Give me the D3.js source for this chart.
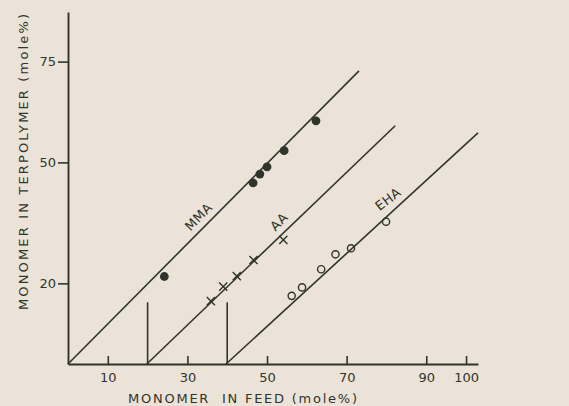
<!DOCTYPE html>
<html>
<head>
<meta charset="utf-8">
<script src="https://cdn.jsdelivr.net/npm/d3@7"></script>
<style>
  html, body { margin: 0; padding: 0; background: #ebe3d7; }
  svg { display: block; }
  text { font-family: "DejaVu Sans", sans-serif; fill: #30352b; }
</style>
</head>
<body>
<svg id="chart" width="569" height="406"></svg>
<script>
// ---- data ----
const xTicks = [10, 30, 50, 70, 90, 100];
const yTicks = [20, 50, 75];
const xTitle = "MONOMER  IN FEED (mole%)";
const yTitle = "MONOMER IN TERPOLYMER (mole%)";

// feed (x) vs terpolymer (y) mole %
const mmaX = [24.2, 46.5, 48.2, 50.0, 54.3, 62.3];
const mmaY = [21.7, 44.9, 47.1, 48.9, 52.9, 60.3];
const aaX  = [35.9, 39.0, 42.4, 46.6, 54.1];
const aaY  = [15.6, 19.2, 21.8, 25.8, 30.8];
const ehaX = [56.2, 58.8, 63.6, 67.2, 71.1, 79.9];
const ehaY = [16.9, 19.0, 23.5, 27.2, 28.7, 35.3];

// straight reference lines (each offset along the feed axis)
const mmaLine = [[0, 0], [73.1, 72.7]];
const aaLine  = [[19.8, 0], [82.2, 59.1]];
const ehaLine = [[39.7, 0], [103, 57.3]];
const offsetMarks = [20, 40];     // short vertical marks at the shifted origins
const offsetMarkHeight = 15.3;

const seriesLabels = ["MMA", "AA", "EHA"];
const labelAnchor = [[32.8, 36.5], [53.0, 35.3], [80.4, 40.9]];
const labelAngle = [-46, -45, -37];

// ---- drawing ----
const ink = "#30352b";
const svg = d3.select("#chart");
const x = d3.scaleLinear().domain([0, 103]).range([68, 478]);
const y = d3.scaleLinear().domain([0, 87.3]).range([364, 12]);

const xAxis = svg.append("g")
  .attr("transform", `translate(0,${y(0)})`)
  .call(d3.axisBottom(x).tickValues(xTicks).tickSizeInner(-8).tickSizeOuter(0).tickPadding(9));
const yAxis = svg.append("g")
  .attr("transform", `translate(${x(0)},0)`)
  .call(d3.axisLeft(y).tickValues(yTicks).tickSizeInner(10).tickSizeOuter(0).tickPadding(2));

[xAxis, yAxis].forEach(g => {
  g.select(".domain").attr("stroke", ink).attr("stroke-width", 1.9);
  g.selectAll(".tick line").attr("stroke", ink).attr("stroke-width", 1.6);
  g.selectAll(".tick text").attr("fill", ink).style("font-size", "13px")
   .style("font-family", '"DejaVu Sans", sans-serif');
});

// reference lines
const line = d3.line().x(d => x(d[0])).y(d => y(d[1]));
[mmaLine, aaLine, ehaLine].forEach(l => {
  svg.append("path").attr("d", line(l)).attr("fill", "none")
    .attr("stroke", ink).attr("stroke-width", 1.6);
});
svg.selectAll("line.offset").data(offsetMarks).join("line")
  .attr("class", "offset")
  .attr("x1", d => x(d)).attr("x2", d => x(d))
  .attr("y1", y(0)).attr("y2", y(offsetMarkHeight))
  .attr("stroke", ink).attr("stroke-width", 1.6);

// MMA filled circles
svg.selectAll("circle.mma").data(d3.zip(mmaX, mmaY)).join("circle")
  .attr("class", "mma")
  .attr("cx", d => x(d[0])).attr("cy", d => y(d[1])).attr("r", 4.4)
  .attr("fill", ink);

// AA crosses
svg.selectAll("path.aa").data(d3.zip(aaX, aaY)).join("path")
  .attr("class", "aa")
  .attr("transform", d => `translate(${x(d[0])},${y(d[1])})`)
  .attr("d", d3.symbol(d3.symbolX, 45))
  .attr("fill", "none").attr("stroke", ink).attr("stroke-width", 1.4);

// EHA open circles
svg.selectAll("circle.eha").data(d3.zip(ehaX, ehaY)).join("circle")
  .attr("class", "eha")
  .attr("cx", d => x(d[0])).attr("cy", d => y(d[1])).attr("r", 3.6)
  .attr("fill", "none").attr("stroke", ink).attr("stroke-width", 1.4);

// series labels
seriesLabels.forEach((s, i) => {
  svg.append("text")
    .attr("transform", `translate(${x(labelAnchor[i][0])},${y(labelAnchor[i][1])}) rotate(${labelAngle[i]})`)
    .attr("text-anchor", "middle").attr("dy", "0.35em")
    .style("font-size", "13px").attr("letter-spacing", 0.5)
    .text(s);
});

// axis titles
svg.append("text")
  .attr("x", 128).attr("y", 403)
  .attr("textLength", 229).attr("lengthAdjust", "spacing")
  .style("font-size", "13px").style("white-space", "pre")
  .text(xTitle);
svg.append("text")
  .attr("transform", "translate(28,310) rotate(-90)")
  .attr("textLength", 296).attr("lengthAdjust", "spacing")
  .style("font-size", "13px")
  .text(yTitle);
</script>
</body>
</html>
